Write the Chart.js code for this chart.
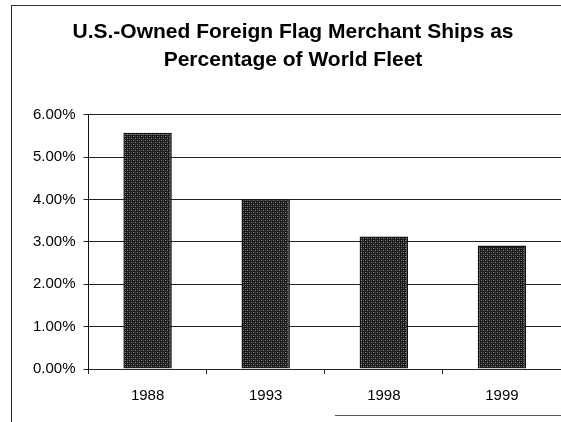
<!DOCTYPE html>
<html>
<head>
<meta charset="utf-8">
<script src="https://cdn.jsdelivr.net/npm/chart.js@4.4.1/dist/chart.umd.min.js"></script>
<style>
  html, body { margin: 0; padding: 0; background: #fff; overflow: hidden; }
  body { width: 561px; height: 422px; position: relative; }
  #frame {
    position: absolute; left: 11px; top: 5px; width: 600px; height: 430px;
    border-left: 1px solid #222; border-top: 1px solid #333;
  }
  #bottomLine {
    position: absolute; left: 335px; top: 415px; width: 240px; height: 0;
    border-top: 1px solid #555;
  }
  #wrap { position: absolute; left: 12px; top: 6px; width: 558px; height: 416px; }
</style>
</head>
<body>
<div id="frame"></div>
<div id="bottomLine"></div>
<div id="wrap"><canvas id="chart" width="558" height="416"></canvas></div>
<script>
// chart data
var titleLines = ["U.S.-Owned Foreign Flag Merchant Ships as", "Percentage of World Fleet"];
var years = ["1988", "1993", "1998", "1999"];
var shareOfFleet = [5.58, 4.01, 3.13, 2.92];   // percent
var yMin = 0;
var yMax = 6;
var yStep = 1;

// halftone-like fill for the bars
function makePattern() {
  var p = document.createElement("canvas");
  p.width = 4;
  p.height = 4;
  var ctx = p.getContext("2d");
  ctx.fillStyle = "#555";
  ctx.fillRect(0, 0, 4, 4);
  ctx.fillStyle = "#1a1a1a";
  ctx.fillRect(0, 0, 1, 4);
  ctx.fillRect(2, 0, 1, 4);
  ctx.fillRect(0, 1, 4, 1);
  ctx.fillRect(0, 3, 4, 1);
  ctx.fillStyle = "#888";
  ctx.fillRect(1, 2, 1, 1);
  ctx.fillRect(3, 0, 1, 1);
  return ctx.createPattern(p, "repeat");
}

Chart.defaults.font.family = "'Liberation Sans', Arial, sans-serif";
Chart.defaults.color = "#000";

var canvas = document.getElementById("chart");
var chart = new Chart(canvas, {
  type: "bar",
  data: {
    labels: years,
    datasets: [
      {
        label: "Share",
        data: shareOfFleet,
        backgroundColor: makePattern(),
        borderColor: "#111",
        borderWidth: 1.5,
        categoryPercentage: 1,
        barPercentage: 0.41,
      },
    ],
  },
  options: {
    responsive: false,
    animation: false,
    layout: {
      padding: { left: 13, right: 9, top: 0, bottom: 4 },
    },
    scales: {
      x: {
        grid: {
          drawOnChartArea: false,
          drawTicks: true,
          tickLength: 5,
          color: "#222",
          offset: true,
        },
        border: { color: "#222", width: 1 },
        ticks: {
          padding: 13,
          font: { size: 15 },
          color: "#000",
        },
      },
      y: {
        min: yMin,
        max: yMax,
        grid: {
          color: "#222",
          lineWidth: 1,
          tickLength: 5,
        },
        border: { color: "#111", width: 1 },
        ticks: {
          stepSize: yStep,
          padding: 8,
          font: { size: 15 },
          color: "#000",
          callback: function (value) {
            return value.toFixed(2) + "%";
          },
        },
      },
    },
    plugins: {
      legend: { display: false },
      tooltip: { enabled: false },
      title: {
        display: true,
        text: titleLines,
        color: "#000",
        font: { size: 21, weight: "bold", lineHeight: 1.333 },
        padding: { top: 12, bottom: 41 },
      },
    },
  },
});
</script>
</body>
</html>
